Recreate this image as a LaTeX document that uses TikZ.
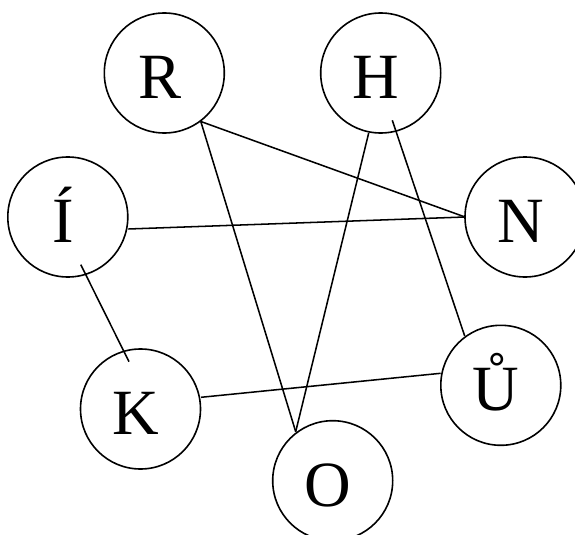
\documentclass[tikz,border=0pt]{standalone}
\usepackage{fontspec}
\setmainfont{Liberation Serif}
\usetikzlibrary{calc}
\begin{document}
\begin{tikzpicture}[x=0.75pt,y=-0.75pt,
  vtx/.style={circle,draw,line width=1.2pt,inner sep=0pt,minimum size=90pt},
  lbl/.style={anchor=base,inner sep=0pt,font=\fontsize{48.4pt}{50pt}\selectfont},
  link/.style={line width=1.15pt}]
\useasboundingbox (0,0) rectangle (575,535);
\clip (0,0) rectangle (575,535);
\node[vtx] (R) at (164.3,73) {};
\node[vtx] (H) at (380.7,73) {};
\node[vtx] (I) at (67.8,217) {};
\node[vtx] (N) at (525,217) {};
\node[vtx] (K) at (140.5,409) {};
\node[vtx] (U) at (500.8,385.3) {};
\node[vtx] (O) at (332.7,480.7) {};
\node[lbl] (tR) at ($(R.center)+(-4.7,25.3)$) {R};
\node[lbl] (tH) at ($(H.center)+(-4.7,25.3)$) {H};
\node[lbl] (tI) at ($(I.center)+(-4.7,25.3)$) {Í};
\node[lbl] (tN) at ($(N.center)+(-4.7,25.3)$) {N};
\node[lbl] (tK) at ($(K.center)+(-4.7,25.3)$) {K};
\node[lbl] (tU) at ($(U.center)+(-4.7,25.3)$) {Ů};
\node[lbl] (tO) at ($(O.center)+(-4.7,25.3)$) {O};
\draw[link] ($(R.center)+(36.5,48.5)$) -- ($(N.center)+(-60,0)$);
\draw[link] ($(R.center)+(36.5,48.5)$) -- ($(O.center)+(-37,-49)$);
\draw[link] ($(H.center)+(-12,60)$) -- ($(O.center)+(-37,-49)$);
\draw[link] ($(H.center)+(11.6,47.3)$) -- ($(U.center)+(-36.1,-49.3)$);
\draw[link] ($(I.center)+(60.5,12)$) -- ($(N.center)+(-60,0)$);
\draw[link] ($(I.center)+(13,47.7)$) -- ($(K.center)+(-11.5,-47.3)$);
\draw[link] ($(K.center)+(60.5,-11.7)$) -- ($(U.center)+(-60.1,-12)$);
\end{tikzpicture}
\end{document}
